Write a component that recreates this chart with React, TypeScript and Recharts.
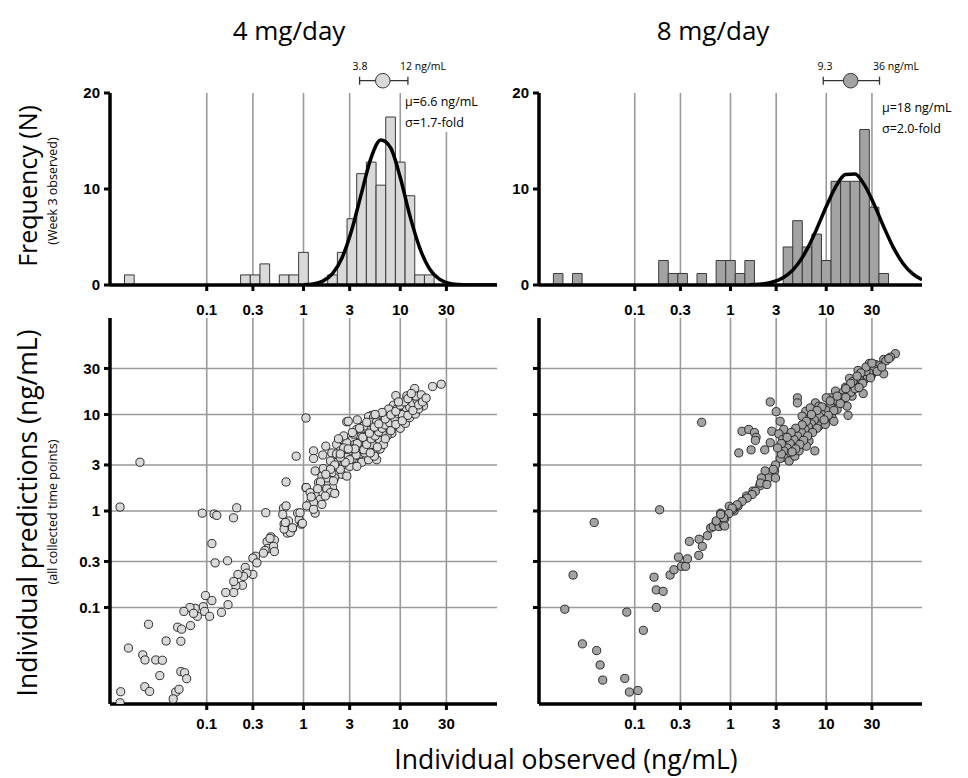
import React from 'react';
import {
  ComposedChart,
  ScatterChart,
  Scatter,
  Line,
  XAxis,
  YAxis,
  CartesianGrid,
  ReferenceArea,
  ReferenceLine,
  ReferenceDot,
} from 'recharts';

// ---------------- data ----------------
const CONC_TICKS = [0.1, 0.3, 1, 3, 10, 30];
const FREQ_TICKS = [0, 10, 20];
const CONC_DOMAIN = [0.01, 100];
const FREQ_DOMAIN = [0, 20];

const panelTitles = ['4 mg/day', '8 mg/day'];

// histogram bins: centre as log10(ng/mL), bin width 0.1 log units
const BIN_HALF_LOG = 0.05;
const lowBinLog = [-1.8, -0.6, -0.5, -0.4, -0.2, -0.1, 0.0, 0.3, 0.4, 0.5, 0.6, 0.7, 0.8, 0.9, 1.0, 1.1, 1.2, 1.3];
const lowBinN = [1.05, 1.05, 1.05, 2.2, 1.05, 1.05, 3.4, 1.05, 3.4, 6.9, 11.6, 12.8, 10.4, 17.5, 12.8, 9.3, 1.05, 1.05];
const highBinLog = [-1.8, -1.6, -0.7, -0.6, -0.5, -0.3, -0.1, 0.0, 0.1, 0.2, 0.6, 0.7, 0.8, 0.9, 1.0, 1.1, 1.2, 1.3, 1.4, 1.5, 1.6];
const highBinN = [1.2, 1.2, 2.55, 1.2, 1.2, 1.2, 2.55, 2.55, 1.2, 2.55, 3.96, 6.7, 3.96, 5.3, 2.55, 10.8, 10.8, 10.8, 16.2, 8.1, 1.2];

// fitted log-normal curves
const lowCurveLog = [0.0, 0.1, 0.2, 0.3, 0.4, 0.5, 0.6, 0.7, 0.8, 0.9, 1.0, 1.1, 1.2, 1.3, 1.4, 1.5, 1.6, 1.7, 1.8, 2.0];
const lowCurveN = [0.03, 0.11, 0.4, 1.18, 2.87, 5.78, 9.6, 13.3, 15.1, 14.3, 11.2, 7.2, 3.9, 1.72, 0.63, 0.19, 0.05, 0.01, 0, 0];
const highCurveLog = [0.2, 0.3, 0.4, 0.5, 0.6, 0.7, 0.8, 0.9, 1.0, 1.1, 1.2, 1.3, 1.4, 1.5, 1.6, 1.7, 1.8, 1.9, 2.0];
const highCurveN = [0.03, 0.08, 0.21, 0.5, 1.1, 2.14, 3.73, 5.83, 8.17, 10.25, 11.5, 11.57, 10.4, 8.4, 6.07, 3.92, 2.27, 1.18, 0.55];

// summary: geometric mean, range, fold-SD
const summaryMu = [6.6, 18];
const summaryLo = [3.8, 9.3];
const summaryHi = [12, 36];
const summarySigma = ['1.7', '2.0'];
const summaryMuText = ['6.6', '18'];

// scatter: [individual observed, individual predicted] (ng/mL)
const lowDosePoints: [number, number][] = [
  [0.0127, 1.1], [0.09, 0.95], [0.119, 0.93], [0.127, 0.9], [0.204, 1.08], [0.189, 0.85],
  [0.113, 0.46], [0.122, 0.29], [0.164, 0.305], [0.407, 0.96], [0.62, 1.07], [0.61, 0.92],
  [0.63, 0.73], [0.7, 0.79], [0.77, 0.66], [0.68, 0.59], [0.87, 0.95], [0.9, 0.81], [0.95, 0.73],
  [0.46, 0.54], [0.5, 0.5], [0.42, 0.48], [0.43, 0.41], [0.49, 0.43], [0.5, 0.38], [0.4, 0.39],
  [0.385, 0.366], [0.32, 0.34], [0.3, 0.325], [0.33, 0.29], [0.3, 0.22], [0.25, 0.26], [0.26, 0.227],
  [0.24, 0.21], [0.21, 0.22], [0.234, 0.17], [0.2, 0.168], [0.19, 0.186], [0.19, 0.143], [0.157, 0.143],
  [0.166, 0.107], [0.142, 0.089], [0.097, 0.133], [0.113, 0.118], [0.092, 0.102], [0.095, 0.091],
  [0.107, 0.081], [0.076, 0.098], [0.067, 0.1], [0.058, 0.091], [0.08, 0.081], [0.073, 0.087],
  [0.068, 0.065], [0.05, 0.0625], [0.055, 0.0596], [0.025, 0.067], [0.038, 0.045], [0.054, 0.0447],
  [0.0155, 0.038], [0.0218, 0.0323], [0.023, 0.0286], [0.0297, 0.0286], [0.0348, 0.0284],
  [0.0327, 0.0197], [0.054, 0.0217], [0.059, 0.0211], [0.062, 0.0183], [0.0229, 0.0151],
  [0.0257, 0.0135], [0.0478, 0.0133], [0.0517, 0.0142], [0.045, 0.0113], [0.0129, 0.0134],
  [0.0127, 0.0103], [0.0204, 3.2],
  [0.84, 3.7], [0.66, 2.0], [1.06, 1.75], [2.8, 8.4], [1.17, 1.22], [1.74, 1.68], [2.1, 1.55],
  [1.32, 0.95], [0.73, 0.6], [0.63, 0.65], [0.77, 0.67], [0.65, 0.76], [0.66, 1.13], [0.45, 0.52],
  [0.92, 0.96], [0.975, 0.745],
  [26.5, 20.6], [21.6, 19.5], [14.1, 18.6], [9.0, 15.7], [11.7, 15.6], [16.1, 14.4], [17.4, 12.3],
  [14.9, 13.1], [12.9, 13.9], [10.2, 11.8], [8.5, 12.5], [13.7, 11.4], [12.7, 10.5], [10.8, 9.5],
  [9.8, 8.9], [8.2, 10.5], [7.6, 9.1], [6.7, 8.3], [6.2, 8.9], [5.1, 9.8], [4.7, 9.5], [5.3, 9.3],
  [3.6, 8.8], [2.9, 8.5], [1.06, 9.2], [8.5, 7.6], [10, 7.2], [7.2, 7.0], [5.7, 7.0], [4.5, 7.2],
  [8.2, 6.4], [7.3, 6.0], [6.1, 5.5], [5.2, 6.1], [4.3, 5.9], [3.8, 6.0], [3.2, 5.5], [2.55, 5.5],
  [2.8, 5.1], [2.2, 4.9], [1.7, 4.7], [1.27, 4.2], [1.27, 3.5], [1.58, 3.8], [1.96, 4.0], [2.4, 4.2],
  [3.0, 4.0], [3.85, 3.9], [4.7, 4.5], [5.6, 4.2], [6.2, 4.4], [4.0, 4.7], [3.4, 4.9], [3.3, 3.3],
  [4.0, 3.2], [4.7, 3.4], [5.7, 3.4], [2.8, 3.6], [2.2, 3.2], [2.6, 3.0], [3.0, 2.9], [2.5, 2.4],
  [2.8, 2.3], [2.1, 2.2], [1.32, 2.6], [1.55, 2.3], [1.07, 1.75], [1.8, 1.97], [2.0, 1.75],
  [1.74, 1.7], [1.9, 1.55], [2.1, 1.52], [1.32, 1.47], [1.49, 1.32], [1.27, 1.22], [1.08, 1.13],
  [1.55, 1.17], [1.68, 1.43],
  [4.2, 7.6], [4.9, 8.3], [6.5, 6.5], [7.4, 7.9], [9.2, 9.5], [11.3, 8.1], [12.5, 9.3], [11.5, 10.9],
  [14.3, 10.1], [13.2, 12.8], [15.5, 11.4], [9.2, 11.4], [7.6, 11.4], [6.8, 9.5], [5.7, 8.4],
  [3.56, 7.0], [3.3, 6.25], [3.85, 5.2], [4.5, 5.1], [5.1, 4.9], [6.7, 4.9], [5.4, 3.7], [4.3, 4.0],
  [3.3, 4.4], [2.6, 4.5], [2.2, 3.9], [1.9, 3.3], [2.4, 2.7], [3.56, 2.9], [1.6, 2.75], [1.96, 2.5],
  [1.74, 2.2], [1.43, 1.97], [1.17, 1.55], [2.04, 2.05], [1.27, 1.04],
  [3.2, 3.5], [3.5, 3.8], [4.2, 4.3], [4.5, 4.9], [5.0, 5.6], [5.5, 6.0], [6.0, 6.6], [6.5, 7.2],
  [7.0, 7.8], [7.8, 8.2], [8.8, 9.0], [9.5, 10.2], [10.5, 10.0], [11.5, 11.8], [12.5, 12.0],
  [13.5, 13.0], [15.0, 14.0], [3.0, 3.4], [2.7, 3.2], [2.4, 3.6], [2.1, 3.0], [1.9, 2.7], [1.7, 2.4],
  [1.5, 2.0], [1.4, 1.7], [1.2, 1.4], [3.6, 5.0], [4.1, 5.8], [4.8, 6.4], [5.4, 7.4], [6.0, 8.0],
  [7.0, 9.0], [8.0, 9.9], [9.0, 10.8], [10.0, 12.5], [11.0, 13.5], [12.0, 14.6], [14.5, 15.5],
  [16.5, 16.0], [13.0, 16.5], [9.6, 13.5], [6.5, 10.5], [5.5, 10.0], [4.5, 8.3], [3.8, 7.2],
  [3.2, 6.5], [2.6, 6.0], [2.3, 5.6], [3.4, 4.4], [2.9, 4.4], [2.4, 3.9], [4.9, 4.0], [5.8, 4.6],
  [7.0, 5.6], [8.0, 6.8], [9.0, 7.9], [10.5, 8.6], [12.0, 9.8], [13.5, 11.0], [15.5, 12.6],
  [17.0, 13.5], [18.5, 14.8],
];

const highDosePoints: [number, number][] = [
  [0.0377, 0.76], [0.0227, 0.217], [0.0186, 0.096], [0.0825, 0.0895], [0.123, 0.058], [0.0284, 0.042],
  [0.04, 0.0358], [0.0435, 0.0254], [0.0463, 0.0177], [0.0787, 0.0184], [0.088, 0.0133], [0.108, 0.0138],
  [0.182, 1.03], [0.159, 0.206], [0.168, 0.152], [0.198, 0.147], [0.168, 0.1], [0.234, 0.217],
  [0.257, 0.246], [0.286, 0.333], [0.307, 0.267], [0.34, 0.267], [0.355, 0.32], [0.466, 0.347],
  [0.372, 0.484], [0.47, 0.51], [0.508, 0.43], [0.574, 0.555], [0.621, 0.667], [0.66, 0.69],
  [0.71, 0.78], [0.76, 0.69], [0.84, 0.72], [0.79, 0.95], [0.87, 0.83], [0.97, 1.12], [1.09, 1.0],
  [0.5, 8.3], [0.71, 0.79], [0.87, 0.7], [1.06, 1.04], [1.2, 1.13], [1.47, 1.43], [1.72, 1.61],
  [2.02, 1.82], [2.37, 2.13], [2.89, 2.6],
  [52.7, 42.7], [46.8, 39.3], [39.8, 37.2], [28.2, 33.8], [21.5, 28.6], [32.6, 33.0], [35.4, 30.1],
  [39.8, 26.4], [29.6, 25.6], [25.7, 24.0], [21.9, 22.2], [19.4, 20.8], [17.5, 23.7], [15.9, 19.2],
  [24.3, 16.5], [18.6, 15.5], [13.5, 16.1], [12.5, 17.5], [11.1, 14.9], [14.6, 13.8], [16.5, 12.2],
  [16.9, 9.8], [13.0, 11.3], [10.6, 11.7], [9.1, 10.8], [9.8, 9.8], [11.5, 9.2], [8.0, 10.0],
  [7.1, 8.5], [8.4, 7.6], [6.3, 9.2], [7.7, 13.2], [5.0, 14.9], [5.0, 13.2], [2.6, 13.5], [3.0, 10.7],
  [3.3, 8.5], [3.6, 7.0], [2.7, 6.7], [3.2, 6.3], [3.5, 5.5], [2.6, 5.1], [2.28, 4.3], [1.32, 6.7],
  [1.55, 7.0], [1.78, 6.5], [1.85, 5.8], [1.82, 5.4], [1.64, 4.3], [1.22, 4.0], [4.8, 6.0], [5.4, 7.0],
  [6.1, 10.8], [5.8, 7.9], [5.2, 5.1], [6.6, 5.3], [7.6, 4.2], [6.2, 4.7], [4.6, 4.7], [4.1, 4.0],
  [3.6, 3.6], [4.1, 3.3], [3.3, 3.5], [2.95, 3.0], [2.8, 2.7], [2.3, 2.6], [2.5, 2.2], [2.95, 2.2],
  [2.1, 2.2], [2.05, 1.95], [2.4, 1.88], [1.82, 1.6], [1.68, 1.48], [1.49, 1.36], [1.32, 1.26],
  [1.17, 1.16], [1.04, 1.07], [0.96, 0.94], [0.85, 0.85], [0.79, 0.92], [9.8, 7.9], [12.0, 8.5],
  [10, 14.9], [8.4, 12.2], [6.8, 11.7], [5.6, 9.6], [6.6, 6.7], [4.7, 3.7], [5.2, 4.2],
  [20, 20], [23, 21], [25, 23], [27, 25], [30, 27], [33, 29], [36, 32], [42, 36], [45, 38], [31, 30],
  [28, 27], [26, 28], [22, 24], [19, 22], [17, 19], [15, 17], [14, 15], [12.5, 14], [11, 12.5],
  [10, 11], [9, 10], [8.5, 9.5], [7.5, 8.8], [7, 8], [6.5, 7.5], [6, 7], [5.5, 6.5], [5, 6], [4.6, 5.5],
  [4.2, 5], [3.9, 4.5], [3.6, 4.2], [3.4, 3.9], [18, 17], [16, 15], [14, 13], [20, 18.5], [24, 21],
  [29, 24], [34, 28], [38, 31], [22, 19], [12, 11], [10.5, 9.8], [9.5, 8.8], [8, 7.2], [7.2, 6.5],
  [6.4, 6], [5.8, 5.4], [5.3, 4.9], [4.8, 4.4], [4.4, 4.1], [13, 15.5], [11, 13.8], [9, 12], [8, 11],
  [7, 10], [6.2, 8.5], [5.6, 7.8], [4.8, 7.2], [4.3, 6.5], [3.9, 5.8], [3.4, 5], [3.1, 4.5], [26, 31],
  [30, 34], [23, 27], [21, 25], [18, 21], [16, 18.5],
];

// ---------------- styling ----------------
const TEXT_FONT = "'Open Sans', 'Noto Sans', sans-serif";
const TICK_FONT = "'Liberation Sans', Arial, sans-serif";
const GRID_COLOR = '#9a9a9a';
const AXIS_LINE = { stroke: '#000', strokeWidth: 3.5 };
const TICK_LINE = { stroke: '#000', strokeWidth: 3 };
const TICK_STYLE = { fill: '#000', fontSize: 15, fontWeight: 700, fontFamily: TICK_FONT };
const LOW_FILL = '#d9d9d9';
const HIGH_FILL = '#a3a3a3';
const SUMMARY_Y = 21.28;
const CAP_HALF = 0.42;

const NoTick = () => <g />;

type HistProps = {
  binLog: number[];
  binN: number[];
  curveLog: number[];
  curveN: number[];
  fill: string;
  mu: number;
  lo: number;
  hi: number;
  left: number;
  width: number;
};

function Histogram({ binLog, binN, curveLog, curveN, fill, mu, lo, hi, left, width }: HistProps) {
  const curve = curveLog.map((l, i) => ({ x: Math.pow(10, l), y: curveN[i] }));
  return (
    <div style={{ position: 'absolute', left, top: 70 }}>
      <ComposedChart width={width} height={260} margin={{ top: 23, right: 13, bottom: 5, left: 0 }}>
        <CartesianGrid
          horizontal={false}
          verticalValues={CONC_TICKS}
          syncWithTicks
          stroke={GRID_COLOR}
          strokeWidth={1.6}
        />
        <XAxis
          type="number"
          dataKey="x"
          scale="log"
          domain={CONC_DOMAIN}
          allowDataOverflow
          ticks={CONC_TICKS}
          interval={0}
          height={40}
          tickSize={6}
          tickMargin={13}
          axisLine={AXIS_LINE}
          tickLine={TICK_LINE}
          tick={TICK_STYLE}
        />
        <YAxis
          type="number"
          domain={FREQ_DOMAIN}
          allowDataOverflow
          ticks={FREQ_TICKS}
          interval={0}
          width={70}
          tickSize={6}
          tickMargin={4}
          axisLine={AXIS_LINE}
          tickLine={TICK_LINE}
          tick={TICK_STYLE}
        />
        {binLog.map((c, i) => (
          <ReferenceArea
            key={i}
            x1={Math.pow(10, c - BIN_HALF_LOG)}
            x2={Math.pow(10, c + BIN_HALF_LOG)}
            y1={0}
            y2={binN[i]}
            fill={fill}
            fillOpacity={1}
            stroke="#3a3a3a"
            strokeWidth={1}
            ifOverflow="visible"
          />
        ))}
        <Line
          data={curve}
          dataKey="y"
          type="monotone"
          stroke="#000"
          strokeWidth={3.5}
          dot={false}
          activeDot={false}
          isAnimationActive={false}
        />
        <ReferenceLine
          segment={[{ x: lo, y: SUMMARY_Y }, { x: hi, y: SUMMARY_Y }]}
          stroke="#333"
          strokeWidth={1.3}
          ifOverflow="visible"
        />
        <ReferenceLine
          segment={[{ x: lo, y: SUMMARY_Y - CAP_HALF }, { x: lo, y: SUMMARY_Y + CAP_HALF }]}
          stroke="#333"
          strokeWidth={1.3}
          ifOverflow="visible"
        />
        <ReferenceLine
          segment={[{ x: hi, y: SUMMARY_Y - CAP_HALF }, { x: hi, y: SUMMARY_Y + CAP_HALF }]}
          stroke="#333"
          strokeWidth={1.3}
          ifOverflow="visible"
        />
        <ReferenceDot x={mu} y={SUMMARY_Y} r={7.3} fill={fill} stroke="#333" strokeWidth={1} ifOverflow="visible" />
      </ComposedChart>
    </div>
  );
}

type ScatterProps = {
  points: [number, number][];
  fill: string;
  left: number;
  width: number;
  showYLabels: boolean;
};

function ScatterPanel({ points, fill, left, width, showYLabels }: ScatterProps) {
  const data = points.map(([x, y]) => ({ x, y }));
  return (
    <div style={{ position: 'absolute', left, top: 300 }}>
      <ScatterChart width={width} height={450} margin={{ top: 18, right: 13, bottom: 6, left: 0 }}>
        <CartesianGrid
          verticalValues={CONC_TICKS}
          horizontalValues={CONC_TICKS}
          syncWithTicks
          stroke={GRID_COLOR}
          strokeWidth={1.6}
        />
        <XAxis
          type="number"
          dataKey="x"
          scale="log"
          domain={CONC_DOMAIN}
          allowDataOverflow
          ticks={CONC_TICKS}
          interval={0}
          height={40}
          tickSize={6}
          tickMargin={8}
          axisLine={AXIS_LINE}
          tickLine={TICK_LINE}
          tick={TICK_STYLE}
        />
        <YAxis
          type="number"
          dataKey="y"
          scale="log"
          domain={CONC_DOMAIN}
          allowDataOverflow
          ticks={CONC_TICKS}
          interval={0}
          width={70}
          tickSize={6}
          tickMargin={4}
          axisLine={AXIS_LINE}
          tickLine={TICK_LINE}
          tick={showYLabels ? TICK_STYLE : NoTick}
        />
        <Scatter
          data={data}
          isAnimationActive={false}
          shape={(p: any) => (
            <circle cx={p.cx} cy={p.cy} r={4.1} fill={fill} stroke="#1a1a1a" strokeWidth={0.9} />
          )}
        />
      </ScatterChart>
    </div>
  );
}

function Txt({ x, y, size, children, anchor = 'center', rotate = false, lh = 1.15 }: any) {
  const tx = anchor === 'center' ? '-50%' : anchor === 'end' ? '-100%' : '0';
  return (
    <div
      style={{
        position: 'absolute',
        left: x,
        top: y,
        transform: `translate(${tx}, -50%)${rotate ? ' rotate(-90deg)' : ''}`,
        transformOrigin: rotate ? 'center center' : undefined,
        fontFamily: TEXT_FONT,
        fontSize: size,
        lineHeight: lh,
        color: '#000',
        whiteSpace: 'nowrap',
      }}
    >
      {children}
    </div>
  );
}

export default function App() {
  return (
    <div style={{ position: 'absolute', left: 0, top: 0, width: 968, height: 778, background: '#fff', overflow: 'hidden' }}>
      <Histogram
        binLog={lowBinLog}
        binN={lowBinN}
        curveLog={lowCurveLog}
        curveN={lowCurveN}
        fill={LOW_FILL}
        mu={summaryMu[0]}
        lo={summaryLo[0]}
        hi={summaryHi[0]}
        left={40}
        width={470}
      />
      <Histogram
        binLog={highBinLog}
        binN={highBinN}
        curveLog={highCurveLog}
        curveN={highCurveN}
        fill={HIGH_FILL}
        mu={summaryMu[1]}
        lo={summaryLo[1]}
        hi={summaryHi[1]}
        left={469}
        width={466}
      />
      <ScatterPanel points={lowDosePoints} fill={LOW_FILL} left={40} width={470} showYLabels />
      <ScatterPanel points={highDosePoints} fill={HIGH_FILL} left={469} width={466} showYLabels={false} />

      {/* panel titles */}
      <Txt x={289} y={31} size={26}>{panelTitles[0]}</Txt>
      <Txt x={713} y={31} size={26}>{panelTitles[1]}</Txt>

      {/* summary labels */}
      <Txt x={360} y={66} size={10.5}>{String(summaryLo[0])}</Txt>
      <Txt x={400} y={66} size={10.5} anchor="start">{`${summaryHi[0]} ng/mL`}</Txt>
      <div style={{ position: 'absolute', left: 403, top: 92, width: 72, height: 40, background: '#fff' }} />
      <Txt x={405} y={102} size={12.5} anchor="start">{`μ=${summaryMuText[0]} ng/mL`}</Txt>
      <Txt x={405} y={123} size={12.5} anchor="start">{`σ=${summarySigma[0]}-fold`}</Txt>

      <Txt x={825} y={66} size={10.5}>{String(summaryLo[1])}</Txt>
      <Txt x={873} y={66} size={10.5} anchor="start">{`${summaryHi[1]} ng/mL`}</Txt>
      <Txt x={882} y={108} size={12.5} anchor="start">{`μ=${summaryMuText[1]} ng/mL`}</Txt>
      <Txt x={882} y={129} size={12.5} anchor="start">{`σ=${summarySigma[1]}-fold`}</Txt>

      {/* axis titles */}
      <Txt x={27} y={186} size={25} rotate>Frequency (N)</Txt>
      <Txt x={53} y={191} size={12.5} rotate>(Week 3 observed)</Txt>
      <Txt x={27} y={513} size={26.5} rotate>Individual predictions (ng/mL)</Txt>
      <Txt x={53} y={512} size={12.5} rotate>(all collected time points)</Txt>
      <Txt x={566} y={759} size={26.5} lh={1}>Individual observed (ng/mL)</Txt>
    </div>
  );
}
